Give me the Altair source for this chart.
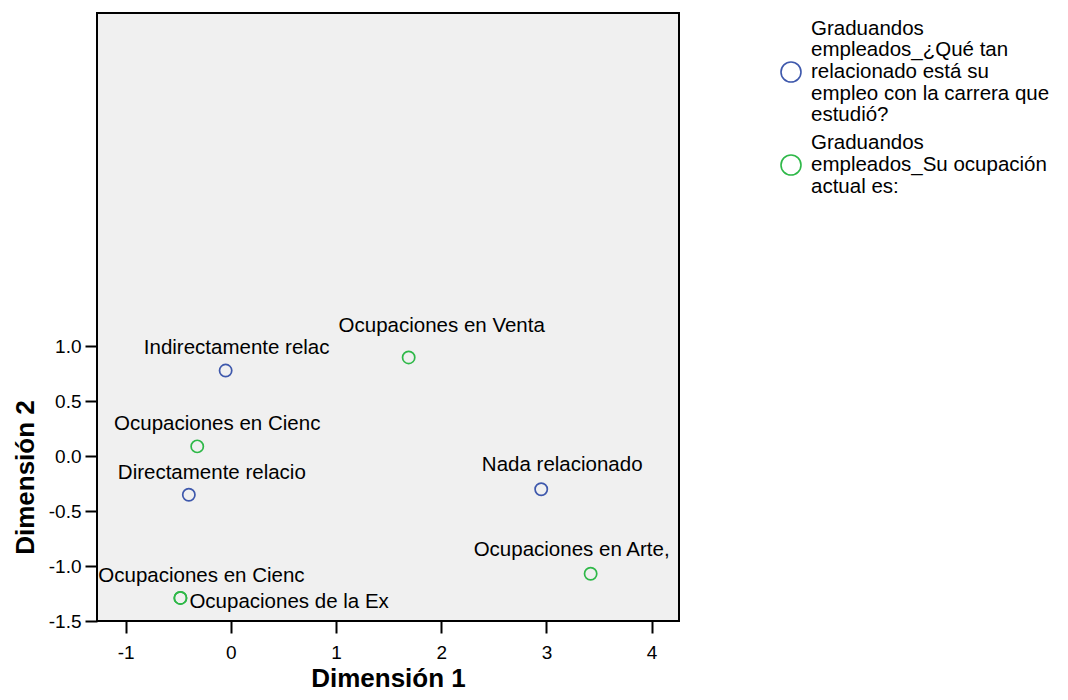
import altair as alt
import pandas as pd

# ---- data ----
point_labels = ["Directamente relacio", "Indirectamente relac", "Nada relacionado",
                "Ocupaciones en Cienc", "Ocupaciones en Venta", "Ocupaciones en Arte,",
                "Ocupaciones en Cienc", "Ocupaciones de la Ex"]
dim1 = [-0.40, -0.05, 2.95, -0.32, 1.69, 3.42, -0.48, -0.48]
dim2 = [-0.35, 0.78, -0.30, 0.09, 0.90, -1.07, -1.29, -1.29]
series_lines = [
    ["Graduandos", "empleados_¿Qué tan", "relacionado está su", "empleo con la carrera que", "estudió?"],
    ["\u2005Graduandos", "empleados_Su ocupación", "actual es:"],
]
series_index = [0, 0, 0, 1, 1, 1, 1, 1]

x_ticks = [-1, 0, 1, 2, 3, 4]
y_ticks = [-1.5, -1.0, -0.5, 0.0, 0.5, 1.0]

series_names = ["\n".join(s) for s in series_lines]
df = pd.DataFrame({
    "idx": list(range(len(point_labels))),
    "label": point_labels,
    "dim1": dim1,
    "dim2": dim2,
    "series": [series_names[i] for i in series_index],
})
legend_df = pd.DataFrame({"series": series_names, "row": [0, 1]})

# label placement (pixel offsets of each label from its point; style only)
label_style = {
    0: dict(align="center", dx=23, dy=-22),
    1: dict(align="center", dx=11, dy=-23),
    2: dict(align="center", dx=21, dy=-24),
    3: dict(align="center", dx=20, dy=-22),
    4: dict(align="center", dx=33, dy=-31),
    5: dict(align="center", dx=-19, dy=-24),
    6: dict(align="center", dx=21, dy=-22),
    7: dict(align="left", dx=9, dy=4),
}

FONT = "Liberation Sans"
colors = ["#3E58AC", "#2EB848"]
color_scale = alt.Scale(domain=series_names, range=colors)

hyphen_expr = ("datum.value < 0 ? '-' + format(abs(datum.value), '{f}') "
               ": format(datum.value, '{f}')")

xenc = alt.X("dim1:Q",
             scale=alt.Scale(domain=[-1.273, 4.26], nice=False, zero=False),
             axis=alt.Axis(values=x_ticks, labelExpr=hyphen_expr.format(f="d"),
                           title="Dimensión 1"))
yenc = alt.Y("dim2:Q",
             scale=alt.Scale(domain=[-1.5, 4.036], nice=False, zero=False),
             axis=alt.Axis(values=y_ticks, labelExpr=hyphen_expr.format(f=".1f"),
                           title="Dimensión 2", titleY=464))

base = alt.Chart(df)

points = base.mark_point(shape="circle", filled=False, size=150, strokeWidth=1.7, opacity=1).encode(
    x=xenc, y=yenc,
    color=alt.Color("series:N", scale=color_scale, legend=None),
)

text_style = dict(font=FONT, fontSize=20.5, color="black", baseline="middle")

label_layers = []
for i, st in label_style.items():
    label_layers.append(
        base.transform_filter(alt.datum.idx == i)
        .mark_text(**text_style, **st)
        .encode(x=xenc, y=yenc, text="label:N")
    )

# custom legend to the right of the plot (wrapped labels, symbol at block centre)
LINE_H = 21.7
sym_y = [59, 152]
legend_layers = []
for r, lines in enumerate(series_lines):
    lb = alt.Chart(legend_df).transform_filter(alt.datum.row == r)
    legend_layers.append(
        lb.mark_point(shape="circle", filled=False, size=400, strokeWidth=1.6, opacity=1).encode(
            x=alt.value(694), y=alt.value(sym_y[r]),
            color=alt.Color("series:N", scale=color_scale, legend=None))
    )
    first_line_y = sym_y[r] - (len(lines) - 1) * LINE_H / 2
    legend_layers.append(
        lb.mark_text(font=FONT, fontSize=20.5, lineHeight=LINE_H, lineBreak="\n",
                     align="left", baseline="middle", color="black").encode(
            x=alt.value(714), y=alt.value(first_line_y), text="series:N")
    )

chart = alt.layer(points, *label_layers, *legend_layers).properties(
    width=582, height=608,
    padding={"left": 89, "top": 5, "right": 370, "bottom": 71},
    autosize="none",
).configure_view(
    stroke="black", strokeWidth=2, fill="#F0F0F0"
).configure_axis(
    domain=False, grid=False,
    tickColor="black", tickWidth=2, tickSize=12,
    labelFont=FONT, labelFontSize=19, labelColor="black",
    titleFont=FONT, titleFontSize=26, titleFontWeight="bold", titleColor="black",
).configure_axisX(
    labelPadding=10, titlePadding=3,
).configure_axisY(
    labelPadding=4, titlePadding=10,
)

chart.save("out.html", embed_options={"renderer": "svg", "actions": False})
